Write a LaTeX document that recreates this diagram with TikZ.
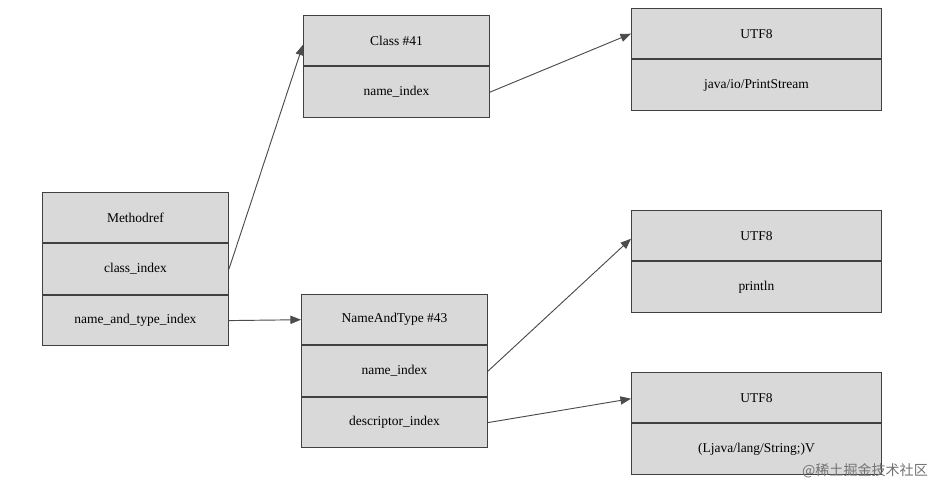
\documentclass[tikz,border=0pt]{standalone}
\usepackage{fontspec}
\setmainfont{Liberation Serif}
\newfontfamily\cjk{Noto Sans CJK SC}
\usetikzlibrary{arrows.meta}
\begin{document}
\begin{tikzpicture}[x=0.03cm,y=-0.03cm,
  cell/.style={draw=black!75,fill=black!15,line width=0.8pt,minimum height=50.5*0.03cm,inner sep=0,font=\fontsize{11.5}{13}\selectfont},
  a/.style={cell,minimum width=186*0.03cm},
  b/.style={cell,minimum width=250*0.03cm},
  arr/.style={draw=black!70,line width=0.8pt,-{Triangle[length=9pt,width=7pt]}}]
\useasboundingbox (0,0) rectangle (940,487);
\fill[white] (0,0) rectangle (940,487);
% Methodref
\node[a,anchor=north west] (m1) at (42,192) {Methodref};
\node[a,anchor=north] (m2) at (m1.south) {class\_index};
\node[a,anchor=north] (m3) at (m2.south) {name\_and\_type\_index};
% Class
\node[a,anchor=north west] (c1) at (303,15) {Class \#41};
\node[a,anchor=north] (c2) at (c1.south) {name\_index};
% NameAndType
\node[a,anchor=north west] (n1) at (301,294) {NameAndType \#43};
\node[a,anchor=north] (n2) at (n1.south) {name\_index};
\node[a,anchor=north] (n3) at (n2.south) {descriptor\_index};
% UTF8s
\node[b,anchor=north west] (u1) at (631,8) {UTF8};
\node[b,anchor=north] (u1b) at (u1.south) {java/io/PrintStream};
\node[b,anchor=north west] (u2) at (631,210) {UTF8};
\node[b,anchor=north] (u2b) at (u2.south) {println};
\node[b,anchor=north west] (u3) at (631,372) {UTF8};
\node[b,anchor=north] (u3b) at (u3.south) {(Ljava/lang/String;)V};
% arrows
\draw[arr] (m2.east) -- ([yshift=-4*0.03cm]c1.west);
\draw[arr] (m3.east) -- (n1.west);
\draw[arr] (c2.east) -- (u1.west);
\draw[arr] (n2.east) -- ([yshift=-3*0.03cm]u2.west);
\draw[arr] (n3.east) -- ([yshift=-1*0.03cm]u3.west);
\node[anchor=south east,text=black!55,font=\cjk\fontsize{12}{14}\selectfont] (wm) at (932,482) {@稀土掘金技术社区};
\end{tikzpicture}
\end{document}
